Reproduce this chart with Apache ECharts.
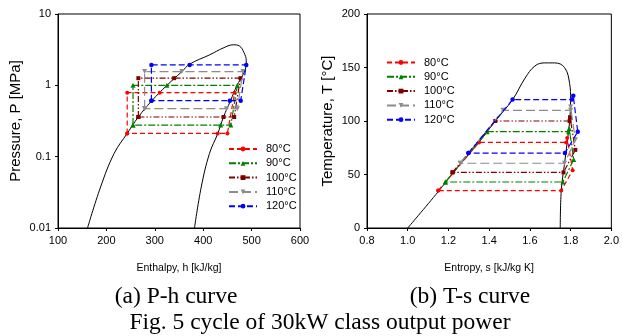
<!DOCTYPE html>
<html>
<head>
<meta charset="utf-8">
<script src="https://cdn.jsdelivr.net/npm/echarts@6/dist/echarts.min.js"></script>
<style>
  html, body { margin: 0; padding: 0; background: #fff; }
  #chart { width: 622px; height: 336px; }
</style>
</head>
<body>
<div id="chart"></div>
<script>
// series names (evaporating temperature)
const tempLabels = ['80°C', '90°C', '100°C', '110°C', '120°C'];

// saturation dome, P-h  [h kJ/kg, P MPa]
const phDome = [
  [161, 0.01], [188, 0.0376], [216, 0.111], [243, 0.212], [266, 0.36], [293, 0.6],
  [325, 1.0], [356, 1.56], [372, 1.98], [413, 2.67], [441, 3.33], [462, 3.7],
  [475, 3.55], [484, 2.9], [489, 2.2], [488, 1.8], [482, 1.4], [470, 1.0],
  [456, 0.6], [442, 0.36], [430, 0.21], [413, 0.111], [396, 0.0376], [382, 0.01]
];

// saturation dome, T-s  [s kJ/kg K, T °C]
const tsDome = [
  [1.0, 0], [1.15, 34], [1.22, 51], [1.30, 69], [1.35, 80], [1.43, 100], [1.515, 120],
  [1.576, 140], [1.625, 151.5], [1.673, 154.3], [1.722, 154.3], [1.77, 150],
  [1.795, 135], [1.80, 120], [1.795, 100], [1.783, 80], [1.77, 60], [1.754, 35], [1.749, 0]
];

// cycles on P-h
const phCycle80 = [[243, 0.212], [243, 0.79], [310, 0.79], [465, 0.79], [450, 0.212], [430, 0.212], [243, 0.212]];
const phCycle90 = [[255, 0.277], [255, 1.0], [325, 1.0], [470.6, 1.0], [457, 0.277], [436, 0.277], [255, 0.277]];
const phCycle100 = [[266, 0.36], [266, 1.26], [340, 1.26], [477, 1.26], [464, 0.36], [442, 0.36], [266, 0.36]];
const phCycle110 = [[279, 0.47], [279, 1.56], [356, 1.56], [482, 1.56], [470.6, 0.47], [448, 0.47], [279, 0.47]];
const phCycle120 = [[293, 0.61], [293, 1.93], [372, 1.93], [489, 1.93], [477.5, 0.61], [455, 0.61], [293, 0.61]];

// cycles on T-s
const tsCycle80 = [[1.15, 35], [1.35, 80], [1.778, 80], [1.783, 84], [1.81, 54], [1.754, 35], [1.15, 35]];
const tsCycle90 = [[1.185, 43], [1.39, 90], [1.79, 90], [1.793, 93], [1.815, 64], [1.762, 43], [1.185, 43]];
const tsCycle100 = [[1.22, 52], [1.43, 100], [1.795, 100], [1.797, 103.5], [1.823, 73], [1.765, 52], [1.22, 52]];
const tsCycle110 = [[1.258, 60.5], [1.468, 110], [1.80, 110], [1.80, 113], [1.823, 82.5], [1.77, 60.5], [1.258, 60.5]];
const tsCycle120 = [[1.298, 70], [1.515, 120], [1.806, 120], [1.813, 123.5], [1.835, 90], [1.772, 70], [1.298, 70]];

const phCycles = [phCycle80, phCycle90, phCycle100, phCycle110, phCycle120];
const tsCycles = [tsCycle80, tsCycle90, tsCycle100, tsCycle110, tsCycle120];

// line look per temperature
const styles = [
  { color: '#ff0000', type: [5, 3], symbol: 'circle', size: 4, rotate: 0 },
  { color: '#008000', type: [7, 2, 2, 2], symbol: 'triangle', size: 5, rotate: 0 },
  { color: '#800000', type: [6, 2, 1.5, 2, 1.5, 2], symbol: 'rect', size: 4, rotate: 0 },
  { color: '#8c8c8c', type: [9, 4], symbol: 'triangle', size: 5, rotate: 180 },
  { color: '#0000ff', type: [6, 3], symbol: 'circle', size: 4.5, rotate: 0 }
];

const sans = 'Liberation Sans, Arial, sans-serif';
const serif = 'Liberation Serif, Times New Roman, serif';

const cycleSeries = (cycles, idx) => cycles.map((pts, i) => ({
  name: tempLabels[i],
  type: 'line',
  xAxisIndex: idx,
  yAxisIndex: idx,
  data: pts,
  symbol: styles[i].symbol,
  symbolSize: styles[i].size,
  symbolRotate: styles[i].rotate,
  itemStyle: { color: styles[i].color },
  lineStyle: { color: styles[i].color, width: 1.2, type: styles[i].type },
  z: 3 + i,
  animation: false
}));

const domeSeries = (pts, idx) => ({
  type: 'line',
  xAxisIndex: idx,
  yAxisIndex: idx,
  data: pts,
  smooth: 0.4,
  symbol: 'none',
  lineStyle: { color: '#000', width: 1 },
  z: 2,
  animation: false
});

const axisCommon = {
  axisLine: { lineStyle: { color: '#000', width: 1 } },
  axisTick: { show: true, inside: false, length: 3, lineStyle: { color: '#000' } },
  splitLine: { show: false },
  axisLabel: { color: '#000', fontFamily: sans, fontSize: 11, margin: 7 },
  nameTextStyle: { color: '#000', fontFamily: sans },
  nameLocation: 'middle'
};

const legendCommon = {
  orient: 'vertical',
  data: tempLabels,
  itemWidth: 28,
  itemHeight: 6,
  itemGap: 3.3,
  textStyle: { color: '#000', fontFamily: sans, fontSize: 11, lineHeight: 11, padding: [0, 0, 0, 4] },
  selectedMode: false,
  padding: 0
};

const chart = echarts.init(document.getElementById('chart'), null, { renderer: 'canvas' });

chart.setOption({
  animation: false,
  backgroundColor: '#fff',
  grid: [
    { left: 58, top: 14, width: 242, height: 214, show: true, borderColor: '#000', borderWidth: 1, backgroundColor: 'transparent' },
    { left: 367, top: 14, width: 247, height: 214, show: true, borderColor: '#000', borderWidth: 1, backgroundColor: 'transparent' }
  ],
  xAxis: [
    Object.assign({}, axisCommon, {
      gridIndex: 0, type: 'value', min: 100, max: 600, interval: 100,
      name: 'Enthalpy, h [kJ/kg]', nameGap: 35,
      nameTextStyle: { color: '#000', fontFamily: sans, fontSize: 10.5 }
    }),
    Object.assign({}, axisCommon, {
      gridIndex: 1, type: 'value', min: 0.8, max: 2.0, interval: 0.2,
      name: 'Entropy, s [kJ/kg K]', nameGap: 35,
      nameTextStyle: { color: '#000', fontFamily: sans, fontSize: 10.5 },
      axisLabel: Object.assign({}, axisCommon.axisLabel, { formatter: v => v.toFixed(1) })
    })
  ],
  yAxis: [
    Object.assign({}, axisCommon, {
      gridIndex: 0, type: 'log', logBase: 10, min: 0.01, max: 10,
      name: 'Pressure, P [MPa]', nameGap: 35,
      nameTextStyle: { color: '#000', fontFamily: sans, fontSize: 15 },
      minorTick: { show: false },
      axisLabel: Object.assign({}, axisCommon.axisLabel, { formatter: v => String(+(+v).toPrecision(3)) })
    }),
    Object.assign({}, axisCommon, {
      gridIndex: 1, type: 'value', min: 0, max: 200, interval: 50,
      name: 'Temperature, T [°C]', nameGap: 32,
      nameTextStyle: { color: '#000', fontFamily: sans, fontSize: 15 }
    })
  ],
  legend: [
    Object.assign({}, legendCommon, { left: 228, top: 143.5 }),
    Object.assign({}, legendCommon, { left: 386, top: 57 })
  ],
  graphic: [
    { type: 'text', x: 176, y: 297, style: { text: '(a) P-h curve', fontFamily: serif, fontSize: 23.5, fill: '#000', textAlign: 'center', textVerticalAlign: 'middle' } },
    { type: 'text', x: 470, y: 297, style: { text: '(b) T-s curve', fontFamily: serif, fontSize: 23.5, fill: '#000', textAlign: 'center', textVerticalAlign: 'middle' } },
    { type: 'text', x: 320, y: 323, style: { text: 'Fig. 5 cycle of 30kW class output power', fontFamily: serif, fontSize: 23.5, fill: '#000', textAlign: 'center', textVerticalAlign: 'middle' } }
  ],
  series: [domeSeries(phDome, 0), domeSeries(tsDome, 1)]
    .concat(cycleSeries(phCycles, 0))
    .concat(cycleSeries(tsCycles, 1))
});
</script>
</body>
</html>
